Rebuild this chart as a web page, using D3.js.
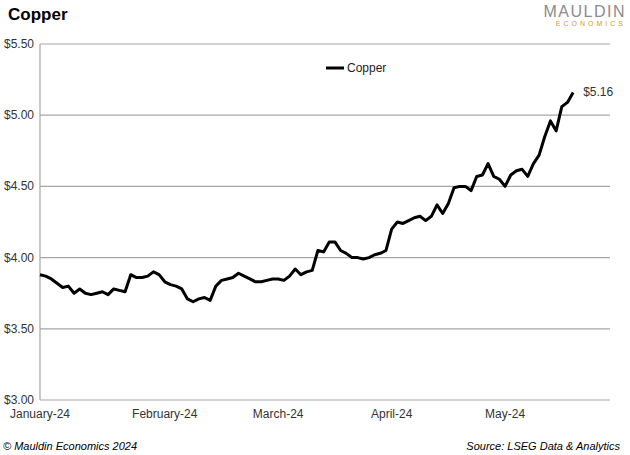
<!DOCTYPE html>
<html>
<head>
<meta charset="utf-8">
<script src="https://d3js.org/d3.v7.min.js"></script>
<style>
body { margin: 0; background: #fff; font-family: "Liberation Sans", Arial, sans-serif; }
</style>
</head>
<body>
<script>
// trading-day index values, Jan-24 .. late May-24
var prices = [3.88,3.87,3.85,3.82,3.79,3.80,3.75,3.78,3.75,3.74,3.75,3.76,3.74,3.78,3.77,3.76,3.88,3.86,3.86,3.87,3.90,3.88,
  3.83,3.81,3.80,3.78,3.71,3.69,3.71,3.72,3.70,3.80,3.84,3.85,3.86,3.89,3.87,3.85,3.83,3.83,3.84,3.85,
  3.85,3.84,3.87,3.92,3.88,3.90,3.91,4.05,4.04,4.11,4.11,4.05,4.03,4.00,4.00,3.99,4.00,4.02,4.03,4.05,
  4.20,4.25,4.24,4.26,4.28,4.29,4.26,4.29,4.37,4.31,4.38,4.49,4.50,4.50,4.47,4.57,4.58,4.66,4.57,4.55,
  4.50,4.58,4.61,4.62,4.57,4.66,4.72,4.85,4.96,4.89,5.06,5.09,5.16];
var monthLabels = ["January-24","February-24","March-24","April-24","May-24"];
var monthStarts = [0, 22, 42, 62, 82];
var yTicks = [3.00, 3.50, 4.00, 4.50, 5.00, 5.50];

var W = 630, H = 455, plotL = 40, plotR = 610, plotT = 44, plotB = 400;
var svg = d3.select("body").append("svg").attr("width", W).attr("height", H);

var x = d3.scaleLinear().domain([0, 100.5]).range([plotL, plotR]);
var y = d3.scaleLinear().domain([3, 5.5]).range([plotB, plotT]);

svg.append("g").selectAll("line").data(yTicks).enter().append("line")
  .attr("x1", plotL).attr("x2", plotR)
  .attr("y1", function (d) { return y(d); }).attr("y2", function (d) { return y(d); })
  .attr("stroke", "#a6a6a6").attr("stroke-width", 1.2);
svg.append("line").attr("x1", plotL).attr("x2", plotL).attr("y1", plotT).attr("y2", plotB)
  .attr("stroke", "#a6a6a6").attr("stroke-width", 1.2);

svg.append("g").selectAll("text").data(yTicks).enter().append("text")
  .attr("x", 4).attr("y", function (d) { return y(d) + 4; })
  .attr("font-size", 12).attr("fill", "#333")
  .text(function (d) { return "$" + d.toFixed(2); });

svg.append("g").selectAll("text").data(monthLabels).enter().append("text")
  .attr("x", function (d, i) { return x(monthStarts[i]); }).attr("y", 418)
  .attr("text-anchor", "middle").attr("font-size", 12).attr("fill", "#333")
  .text(function (d) { return d; });

svg.append("path").datum(prices)
  .attr("fill", "none").attr("stroke", "#000").attr("stroke-width", 3).attr("stroke-linejoin", "round")
  .attr("d", d3.line().x(function (d, i) { return x(i); }).y(function (d) { return y(d); }));

var last = prices.length - 1;
svg.append("text").attr("x", x(last) + 10).attr("y", y(prices[last]) + 4)
  .attr("font-size", 12).attr("fill", "#333").text("$" + prices[last].toFixed(2));

// legend
svg.append("line").attr("x1", 326).attr("x2", 344).attr("y1", 68).attr("y2", 68)
  .attr("stroke", "#000").attr("stroke-width", 3);
svg.append("text").attr("x", 347).attr("y", 72).attr("font-size", 12).attr("fill", "#222").text("Copper");

// title and logo
svg.append("text").attr("x", 8).attr("y", 20).attr("font-size", 17).attr("font-weight", "bold").text("Copper");
svg.append("text").attr("x", 626).attr("y", 17).attr("text-anchor", "end").attr("font-size", 16)
  .attr("fill", "#8c8c8c").attr("letter-spacing", 1.5).text("MAULDIN");
svg.append("text").attr("x", 626).attr("y", 26).attr("text-anchor", "end").attr("font-size", 7)
  .attr("fill", "#c9a227").attr("letter-spacing", 3).text("ECONOMICS");

// footer
svg.append("text").attr("x", 3).attr("y", 450).attr("font-size", 11).attr("font-style", "italic")
  .text("© Mauldin Economics 2024");
svg.append("text").attr("x", 620).attr("y", 450).attr("text-anchor", "end").attr("font-size", 11)
  .attr("font-style", "italic").text("Source: LSEG Data & Analytics");
</script>
</body>
</html>
